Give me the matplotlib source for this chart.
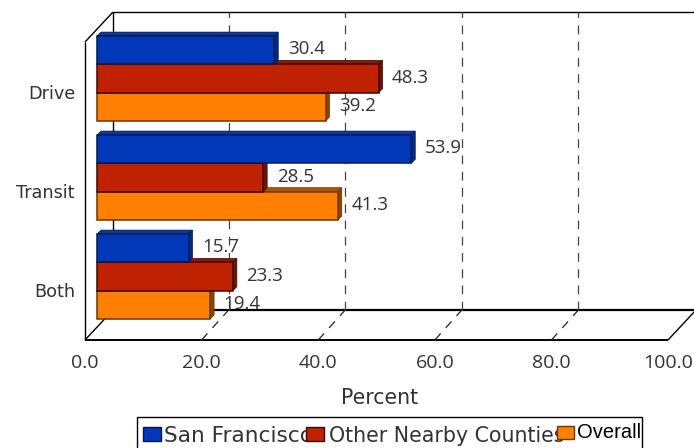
import matplotlib
matplotlib.use("Agg")
import matplotlib.pyplot as plt
from matplotlib.patches import Polygon, Rectangle
from matplotlib.transforms import Affine2D

categories = ["Drive", "Transit", "Both"]
series_names = ["San Francisco", "Other Nearby Counties", "Overall"]
san_francisco = [30.4, 53.9, 15.7]
other_counties = [48.3, 28.5, 23.3]
overall = [39.2, 41.3, 19.4]
x_ticks = [0, 20, 40, 60, 80, 100]

front = ["#0038B8", "#BF2200", "#FF7F00"]
top = ["#0B3796", "#8C1A00", "#A85500"]
side = ["#002A85", "#6B1400", "#8A4600"]
edge = ["#001A55", "#3A0B00", "#6B3600"]

W, H = 694, 448
NUM_FONT = "Open Sans"
LABEL_FONT = "DejaVu Sans"
TEXT = "#333333"
PX = 72 / 100

fig = plt.figure(figsize=(W / 100, H / 100), dpi=100)
ax = fig.add_axes([85 / W, (H - 340) / H, 583 / W, 298 / H])
ax.set_xlim(0, 100)
ax.set_ylim(2.641, -0.369)
ax.axis("off")

ux = 100 / 583   # data units per pixel, horizontal
uy = 1 / 99      # data units per pixel, vertical
depth_x, depth_y = 28, 30      # full depth of the 3D box
grid_x = 27                    # horizontal run of the grid lines on the floor
bar_x, bar_d = 12, 4           # bar inset and bar thickness in pixels
y0, y1 = ax.get_ylim()


def pt(x, y, dx=0, dy=0):
    return (x + dx * ux, y - dy * uy)


def line(p, q, **kw):
    ax.plot([p[0], q[0]], [p[1], q[1]], clip_on=False, solid_capstyle="butt", **kw)


# walls and floor of the box
line(pt(0, y0), pt(0, y1), color="k", lw=1)
line(pt(0, y1), pt(0, y1, depth_x, depth_y), color="k", lw=1)
line(pt(0, y0), pt(0, y0, depth_x, depth_y), color="k", lw=1)
line(pt(0, y1, depth_x, depth_y), pt(0, y0, depth_x, depth_y), color="k", lw=1)
line(pt(0, y1, depth_x, depth_y), pt(100, y1, depth_x, depth_y), color="k", lw=1)
line(pt(0, y0), pt(100, y0), color="k", lw=1.4)
line(pt(0, y0, depth_x, depth_y), pt(100, y0, depth_x, depth_y), color="k", lw=1.6)
line(pt(100, y0), pt(100, y0, depth_x, depth_y), color="k", lw=1)

# dashed grid on the back wall and floor
for v in x_ticks[1:-1]:
    line(pt(v, y0, grid_x, depth_y), pt(v, y1, grid_x, depth_y),
         color="#444444", lw=0.9, ls=(0, (7, 6)))
    line(pt(v, y0), pt(v, y0, grid_x, depth_y), color="#222222", lw=0.9, ls=(0, (7, 6)))

height = 28.3 / 99
shift = Affine2D().translate(bar_x, 0)
all_series = [san_francisco, other_counties, overall]

for g in range(len(categories)):
    for s in (2, 1, 0):
        v = all_series[s][g]
        yc = g + (s - 1) * height
        a, b = yc - height / 2, yc + height / 2
        ax.add_patch(Polygon([pt(0, a, bar_x), pt(0, a, bar_x + bar_d, bar_d),
                              pt(v, a, bar_x + bar_d, bar_d), pt(v, a, bar_x)],
                             fc=top[s], ec=edge[s], lw=0.5, clip_on=False, zorder=3))
        ax.add_patch(Polygon([pt(v, a, bar_x), pt(v, a, bar_x + bar_d, bar_d),
                              pt(v, b, bar_x + bar_d, bar_d), pt(v, b, bar_x)],
                             fc=side[s], ec=edge[s], lw=0.5, clip_on=False, zorder=3))
        ax.barh(yc, v, height=height, color=front[s], edgecolor=edge[s], linewidth=1.1,
                transform=ax.transData + shift, clip_on=False, zorder=3)

# value labels sit above bars and grid
for s, vals in enumerate(all_series):
    for g, v in enumerate(vals):
        yc = g + (s - 1) * height
        ax.annotate(f"{v:.1f}", xy=(v, yc), xytext=(25.5 * PX, 1 * PX),
                    textcoords="offset points", ha="left", va="center",
                    fontsize=13.5, family=NUM_FONT, color=TEXT, zorder=5,
                    annotation_clip=False)

# axis labels
for g, name in enumerate(categories):
    ax.annotate(name, xy=(0, g), xytext=(-10 * PX, -15.5 * PX), textcoords="offset points",
                ha="right", va="center", fontsize=12.7, family=LABEL_FONT, color=TEXT,
                annotation_clip=False)
for v in x_ticks:
    ax.annotate(f"{v:.1f}", xy=(v, y0), xytext=(0, -22.5 * PX), textcoords="offset points",
                ha="center", va="center", fontsize=14, family=NUM_FONT, color=TEXT,
                annotation_clip=False)
ax.text(50, y0, "Percent", ha="center", va="center", fontsize=14.8, family=LABEL_FONT,
        color=TEXT, transform=ax.transData + Affine2D().translate(3, -58))

# legend box runs off the lower edge of the figure
box = fig.add_axes([0, 0, 1, 1], zorder=10)
box.set_xlim(0, W)
box.set_ylim(H, 0)
box.axis("off")
box.add_patch(Rectangle((137.5, 417.5), 504.5, 40, fc="white", ec="k", lw=1, zorder=1))
box.text(164, 436, series_names[0], ha="left", va="center", fontsize=15.6, family=LABEL_FONT,
         color=TEXT, zorder=2)
box.text(329, 436, series_names[1], ha="left", va="center", fontsize=14.8, family=LABEL_FONT,
         color=TEXT, zorder=2)
box.add_patch(Rectangle((143, 427), 18.5, 14, fc=front[0], ec=edge[0], lw=1, zorder=3))
box.add_patch(Rectangle((306, 427), 18.5, 14, fc=front[1], ec=edge[1], lw=1, zorder=3))
box.add_patch(Rectangle((557, 426), 17.5, 13, fc=front[2], ec=edge[2], lw=1, zorder=3))
box.text(577, 433, series_names[2], ha="left", va="center", fontsize=14.5,
         family="Liberation Sans", color="black", zorder=4)

fig.savefig("out.png", dpi=100)
